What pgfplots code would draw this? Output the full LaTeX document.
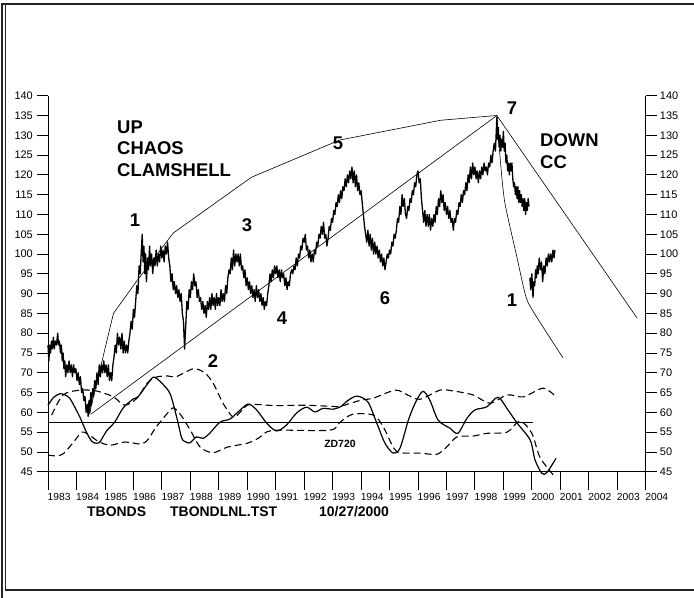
\documentclass[border=0pt]{standalone}
\usepackage{fontspec}
\setmainfont{Liberation Sans}
\usepackage{pgfplots}
\pgfplotsset{compat=1.18}
\begin{document}
\begin{tikzpicture}
\path[use as bounding box] (0bp,0bp) rectangle (694bp,598bp);
% frame
\draw[line width=2.4bp,black!85] (1bp,593.8bp) -- (694bp,593.8bp);
\draw[line width=2.4bp,black!85] (5bp,8bp) -- (694bp,8bp);
\draw[line width=2.2bp,black!85] (1.8bp,0bp) -- (1.8bp,595bp);
\draw[line width=1.0bp,black!85] (5.8bp,7bp) -- (5.8bp,592.6bp);
\pgfplotsset{
  base/.style={at={(48bp,126.3bp)}, anchor=south west, scale only axis,
    width=597.7bp, height=376bp, xmin=1983, xmax=2004, ymin=45, ymax=140,
    axis line style={-,line width=0.9bp}, tick style={line width=0.8bp,black},
    tick align=outside, /pgf/number format/assume math mode=true,
    ticklabel style={font=\fontsize{11}{13}\selectfont}},
}
% left y axis
\begin{axis}[base, axis x line=none, axis y line*=left, ytick={45,50,...,140},
  major tick length=11bp, yticklabel style={inner sep=0pt, xshift=-4bp}]
\end{axis}
% right y axis
\begin{axis}[base, axis x line=none, axis y line*=right, ytick={45,50,...,140},
  major tick length=11bp, yticklabel style={inner sep=0pt, xshift=3bp}]
\end{axis}
% main axis
\begin{axis}[base, axis y line=none, axis x line*=bottom, clip=false,
  xtick={1983,...,2004}, major tick length=18bp,
  xticklabels={1983,1984,1985,1986,1987,1988,1989,1990,1991,1992,1993,1994,1995,1996,1997,1998,1999,2000,2001,2002,2003,2004},
  xticklabel style={anchor=north west, inner sep=0pt, xshift=-0.5bp, yshift=-3bp, font=\fontsize{10.3}{12}\selectfont}]
% price
\addplot[black, line width=1.3bp, line join=round] table {
1983.00 77
1983.03 73
1983.06 77
1983.09 75
1983.12 78
1983.15 76
1983.19 79
1983.22 76
1983.26 78
1983.30 77
1983.34 80
1983.37 77
1983.40 78
1983.44 75
1983.47 77
1983.50 73
1983.53 75
1983.56 71
1983.59 73
1983.62 69
1983.66 72
1983.70 70
1983.74 73
1983.78 70
1983.82 72
1983.86 69
1983.90 72
1983.94 70
1983.98 71
1984.02 68
1984.06 70
1984.10 67
1984.14 69
1984.18 65
1984.22 66
1984.26 63
1984.30 64
1984.34 60
1984.38 62
1984.41 59
1984.44 63
1984.47 60
1984.50 65
1984.53 62
1984.57 66
1984.60 64
1984.64 68
1984.68 66
1984.72 70
1984.76 67
1984.80 72
1984.84 69
1984.88 72
1984.92 70
1984.96 73
1985.00 70
1985.04 72
1985.08 69
1985.12 72
1985.16 68
1985.20 70
1985.24 68
1985.28 72
1985.32 74
1985.36 77
1985.40 75
1985.44 80
1985.48 77
1985.52 79
1985.56 76
1985.60 80
1985.64 75
1985.68 78
1985.72 75
1985.76 77
1985.80 75
1985.84 78
1985.88 80
1985.92 83
1985.96 81
1986.00 86
1986.04 84
1986.08 88
1986.12 92
1986.16 90
1986.20 97
1986.24 95
1986.28 101
1986.31 105
1986.34 98
1986.37 102
1986.40 95
1986.43 100
1986.46 93
1986.50 99
1986.53 96
1986.57 102
1986.60 97
1986.64 100
1986.68 95
1986.72 99
1986.76 97
1986.80 101
1986.84 97
1986.88 100
1986.92 98
1986.96 102
1987.00 99
1987.04 101
1987.08 98
1987.12 102
1987.16 100
1987.20 103
1987.24 99
1987.28 97
1987.32 93
1987.36 95
1987.40 91
1987.44 93
1987.48 90
1987.52 92
1987.56 89
1987.60 91
1987.64 88
1987.68 90
1987.72 85
1987.76 83
1987.80 76
1987.84 82
1987.88 88
1987.92 86
1987.96 91
1988.00 89
1988.04 93
1988.08 91
1988.12 95
1988.16 92
1988.20 93
1988.24 89
1988.28 91
1988.32 88
1988.36 89
1988.40 86
1988.44 88
1988.48 85
1988.52 87
1988.56 84
1988.60 88
1988.64 86
1988.68 89
1988.72 86
1988.76 90
1988.80 87
1988.84 89
1988.88 86
1988.92 90
1988.96 87
1989.00 89
1989.04 87
1989.08 91
1989.12 88
1989.16 90
1989.20 88
1989.24 92
1989.28 90
1989.32 94
1989.36 96
1989.40 95
1989.44 99
1989.48 96
1989.52 101
1989.56 97
1989.60 100
1989.64 98
1989.68 100
1989.72 97
1989.76 100
1989.80 96
1989.84 97
1989.88 94
1989.92 96
1989.96 92
1990.00 94
1990.04 91
1990.08 93
1990.12 90
1990.16 92
1990.20 89
1990.24 91
1990.28 88
1990.32 92
1990.36 89
1990.40 91
1990.44 88
1990.48 90
1990.52 87
1990.56 89
1990.60 86
1990.64 88
1990.68 87
1990.72 90
1990.76 92
1990.80 95
1990.84 93
1990.88 96
1990.92 94
1990.96 97
1991.00 95
1991.04 97
1991.08 94
1991.12 96
1991.16 93
1991.20 96
1991.24 94
1991.28 95
1991.32 92
1991.36 94
1991.40 91
1991.44 93
1991.48 92
1991.52 95
1991.56 96
1991.60 95
1991.64 97
1991.68 96
1991.72 99
1991.76 97
1991.80 100
1991.84 99
1991.88 102
1991.92 101
1991.96 104
1992.00 103
1992.04 105
1992.08 101
1992.12 102
1992.16 99
1992.20 101
1992.24 98
1992.28 100
1992.32 98
1992.36 101
1992.40 100
1992.44 103
1992.48 102
1992.52 105
1992.56 104
1992.60 107
1992.64 105
1992.68 108
1992.72 104
1992.76 105
1992.80 102
1992.84 104
1992.88 107
1992.92 106
1992.96 109
1993.00 108
1993.04 111
1993.08 110
1993.12 113
1993.16 112
1993.20 115
1993.24 113
1993.28 116
1993.32 114
1993.36 117
1993.40 116
1993.44 119
1993.48 117
1993.52 120
1993.56 118
1993.60 121
1993.64 119
1993.68 122
1993.72 118
1993.76 121
1993.80 117
1993.84 120
1993.88 116
1993.92 118
1993.96 115
1994.00 116
1994.04 113
1994.08 110
1994.12 107
1994.16 105
1994.20 103
1994.24 106
1994.28 102
1994.32 105
1994.36 101
1994.40 104
1994.44 100
1994.48 103
1994.52 100
1994.56 102
1994.60 99
1994.64 101
1994.68 98
1994.72 100
1994.76 97
1994.80 99
1994.84 96
1994.88 98
1994.92 100
1994.96 99
1995.00 101
1995.04 100
1995.08 103
1995.12 102
1995.16 105
1995.20 104
1995.24 106
1995.28 109
1995.32 108
1995.36 112
1995.40 110
1995.44 115
1995.48 112
1995.52 114
1995.56 110
1995.60 109
1995.64 112
1995.68 111
1995.72 114
1995.76 113
1995.80 116
1995.84 115
1995.88 118
1995.92 117
1995.96 120
1996.00 121
1996.04 118
1996.08 119
1996.12 114
1996.16 111
1996.20 108
1996.24 111
1996.28 107
1996.32 110
1996.36 107
1996.40 110
1996.44 106
1996.48 109
1996.52 107
1996.56 110
1996.60 108
1996.64 112
1996.68 110
1996.72 114
1996.76 112
1996.80 116
1996.84 113
1996.88 115
1996.92 111
1996.96 113
1997.00 110
1997.04 112
1997.08 109
1997.12 111
1997.16 108
1997.20 109
1997.24 106
1997.28 109
1997.32 108
1997.36 111
1997.40 110
1997.44 113
1997.48 112
1997.52 115
1997.56 113
1997.60 116
1997.64 115
1997.68 118
1997.72 116
1997.76 120
1997.80 118
1997.84 122
1997.88 119
1997.92 123
1997.96 120
1998.00 122
1998.04 119
1998.08 121
1998.12 118
1998.16 121
1998.20 119
1998.24 122
1998.28 120
1998.32 123
1998.36 121
1998.40 122
1998.44 120
1998.48 123
1998.52 122
1998.56 125
1998.60 123
1998.64 126
1998.68 128
1998.72 126
1998.75 131
1998.77 134.5
1998.79 129
1998.82 132
1998.85 127
1998.88 130
1998.91 126
1998.94 129
1998.97 127
1999.00 131
1999.03 126
1999.06 128
1999.09 123
1999.12 125
1999.15 121
1999.18 123
1999.21 120
1999.24 123
1999.27 121
1999.30 123
1999.33 119
1999.36 117
1999.39 118
1999.42 115
1999.45 117
1999.48 114
1999.51 117
1999.54 113
1999.57 116
1999.60 113
1999.63 115
1999.66 112
1999.69 114
1999.72 111
1999.75 114
1999.78 110
1999.81 113
1999.84 111
1999.87 114
1999.90 112
};
% second price segment
\addplot[black, line width=1.3bp, line join=round] table {
1999.93 94
1999.96 91
2000.00 95
2000.04 89
2000.07 93
2000.10 92
2000.13 96
2000.16 94
2000.19 97
2000.22 95
2000.26 99
2000.30 96
2000.34 98
2000.38 93
2000.42 97
2000.46 95
2000.50 99
2000.54 97
2000.58 100
2000.62 98
2000.66 100
2000.70 98
2000.74 101
2000.78 99
2000.81 101
};
% up clamshell curve
\addplot[black, line width=0.6bp] table {
1984.45 59.5
1984.9 73
1985.3 85
1986.1 93
1987.4 105.3
1990.15 119.4
1993.25 128.8
1996.8 133.8
1998.77 135
};
% straight up line
\addplot[black, line width=0.6bp] table {
1984.5 59.5
1998.77 135
};
% down lines
\addplot[black, line width=0.6bp] table {
1998.77 135
2003.7 83.8
};
\addplot[black, line width=0.6bp, smooth, tension=0.4] table {
1998.77 135
1998.9 123
1999.05 113
1999.45 100
1999.8 89
2000.15 84.3
2001.1 73.7
};
% horizontal line
\addplot[black, line width=1.0bp] table {
1983 57.5
2000.03 57.5
};
% solid oscillator
\addplot[black, line width=1.2bp, smooth, tension=0.5] table {
1983.0 61.8
1983.2 63.8
1983.42 64.7
1983.6 64.4
1983.77 63.5
1984.0 60.5
1984.12 58.8
1984.37 54.7
1984.55 52.6
1984.7 52.2
1984.83 52.6
1985.06 55.3
1985.35 57.6
1985.65 61.2
1986.0 63.4
1986.16 63.9
1986.47 66.9
1986.72 68.9
1987.05 67.0
1987.3 64.5
1987.52 58.8
1987.7 53.5
1987.85 52.5
1987.99 52.3
1988.22 53.8
1988.45 53.4
1988.68 54.7
1989.04 57.5
1989.39 58.3
1989.68 60.1
1990.03 62.1
1990.33 60.6
1990.68 57.3
1991.03 55.3
1991.38 56.8
1991.73 59.8
1992.08 61.3
1992.38 60.1
1992.66 61
1993.02 60.8
1993.3 61.5
1993.5 62.8
1993.85 64.1
1994.24 62.6
1994.55 57.3
1994.84 52.2
1995.13 49.7
1995.37 51.0
1995.66 58.0
1995.9 62.3
1996.17 65.3
1996.42 63
1996.71 58
1997.12 56
1997.4 54.7
1997.72 58.5
1998.0 60.6
1998.42 61.4
1998.81 63.8
1999.16 60.6
1999.48 57.3
1999.94 53.0
2000.11 48.0
2000.35 44.6
2000.53 44.8
2000.85 48.4
};
% upper dashed
\addplot[black, line width=1.1bp, dash pattern=on 7bp off 4bp, smooth, tension=0.5] table {
1983.13 59.3
1983.53 64.4
1984.12 65.6
1984.7 65.4
1985.3 63.9
1985.7 61.8
1986.13 63.6
1986.5 67.5
1986.8 68.9
1987.2 69.2
1987.5 69.0
1988.1 71.0
1988.5 70.0
1988.8 67.4
1989.15 62.3
1989.5 58.8
1989.75 60.0
1990.0 61.8
1990.3 62.0
1991 61.7
1992 61.8
1993.0 61.5
1993.26 61.5
1993.96 63.0
1994.43 63.6
1995.2 65.6
1995.6 64.5
1996.07 63.3
1996.77 65.6
1997.23 65.4
1997.93 64.4
1998.53 62.3
1999.13 64.4
1999.7 63.9
2000.4 66.1
2000.85 63.9
};
% lower dashed
\addplot[black, line width=1.1bp, dash pattern=on 7bp off 4bp, smooth, tension=0.5] table {
1983.0 49.2
1983.3 49.0
1983.55 49.6
1983.9 52.5
1984.2 55.0
1984.5 54.0
1984.8 52.5
1985.2 51.7
1985.7 52.5
1986.3 52.0
1986.55 53.5
1986.8 56.3
1987.3 60.6
1987.45 61.0
1987.7 59
1988.0 55.5
1988.35 51.2
1988.8 49.8
1989.3 51.2
1990.0 52.2
1990.4 53.5
1990.7 55.1
1991.15 55.5
1992.9 55.5
1993.26 57.5
1993.7 59.5
1994.43 59.3
1994.78 56.3
1995.13 51.2
1995.37 49.8
1996.07 49.7
1996.66 49.4
1997.0 51.2
1997.37 53.8
1997.93 54.0
1998.43 54.7
1999.13 55.0
1999.58 57.8
2000.0 54.7
2000.28 48.7
2000.75 44.2
};
\end{axis}
% annotations
\begin{scope}[every node/.style={inner sep=0pt, font=\bfseries\fontsize{18.5}{20}\selectfont}]
\node[anchor=west] at (117bp,471bp) {UP};
\node[anchor=west] at (117bp,450bp) {CHAOS};
\node[anchor=west] at (117bp,428bp) {CLAMSHELL};
\node at (135bp,378bp) {1};
\node at (247bp,373bp) {3};
\node at (338bp,455bp) {5};
\node at (282bp,280bp) {4};
\node at (385bp,300bp) {6};
\node at (213bp,237bp) {2};
\node at (512bp,490bp) {7};
\node[anchor=west] at (540bp,458bp) {DOWN};
\node[anchor=west] at (540bp,436bp) {CC};
\node at (512bp,298bp) {1};
\end{scope}
\node[inner sep=0pt, font=\bfseries\fontsize{10.5}{12}\selectfont] at (340bp,154bp) {ZD720};
\begin{scope}[every node/.style={inner sep=0pt, anchor=west, font=\bfseries\fontsize{14}{16}\selectfont}]
\node at (87bp,86bp) {TBONDS};
\node at (170bp,86bp) {TBONDLNL.TST};
\node at (319bp,86bp) {10/27/2000};
\end{scope}
\end{tikzpicture}
\end{document}
